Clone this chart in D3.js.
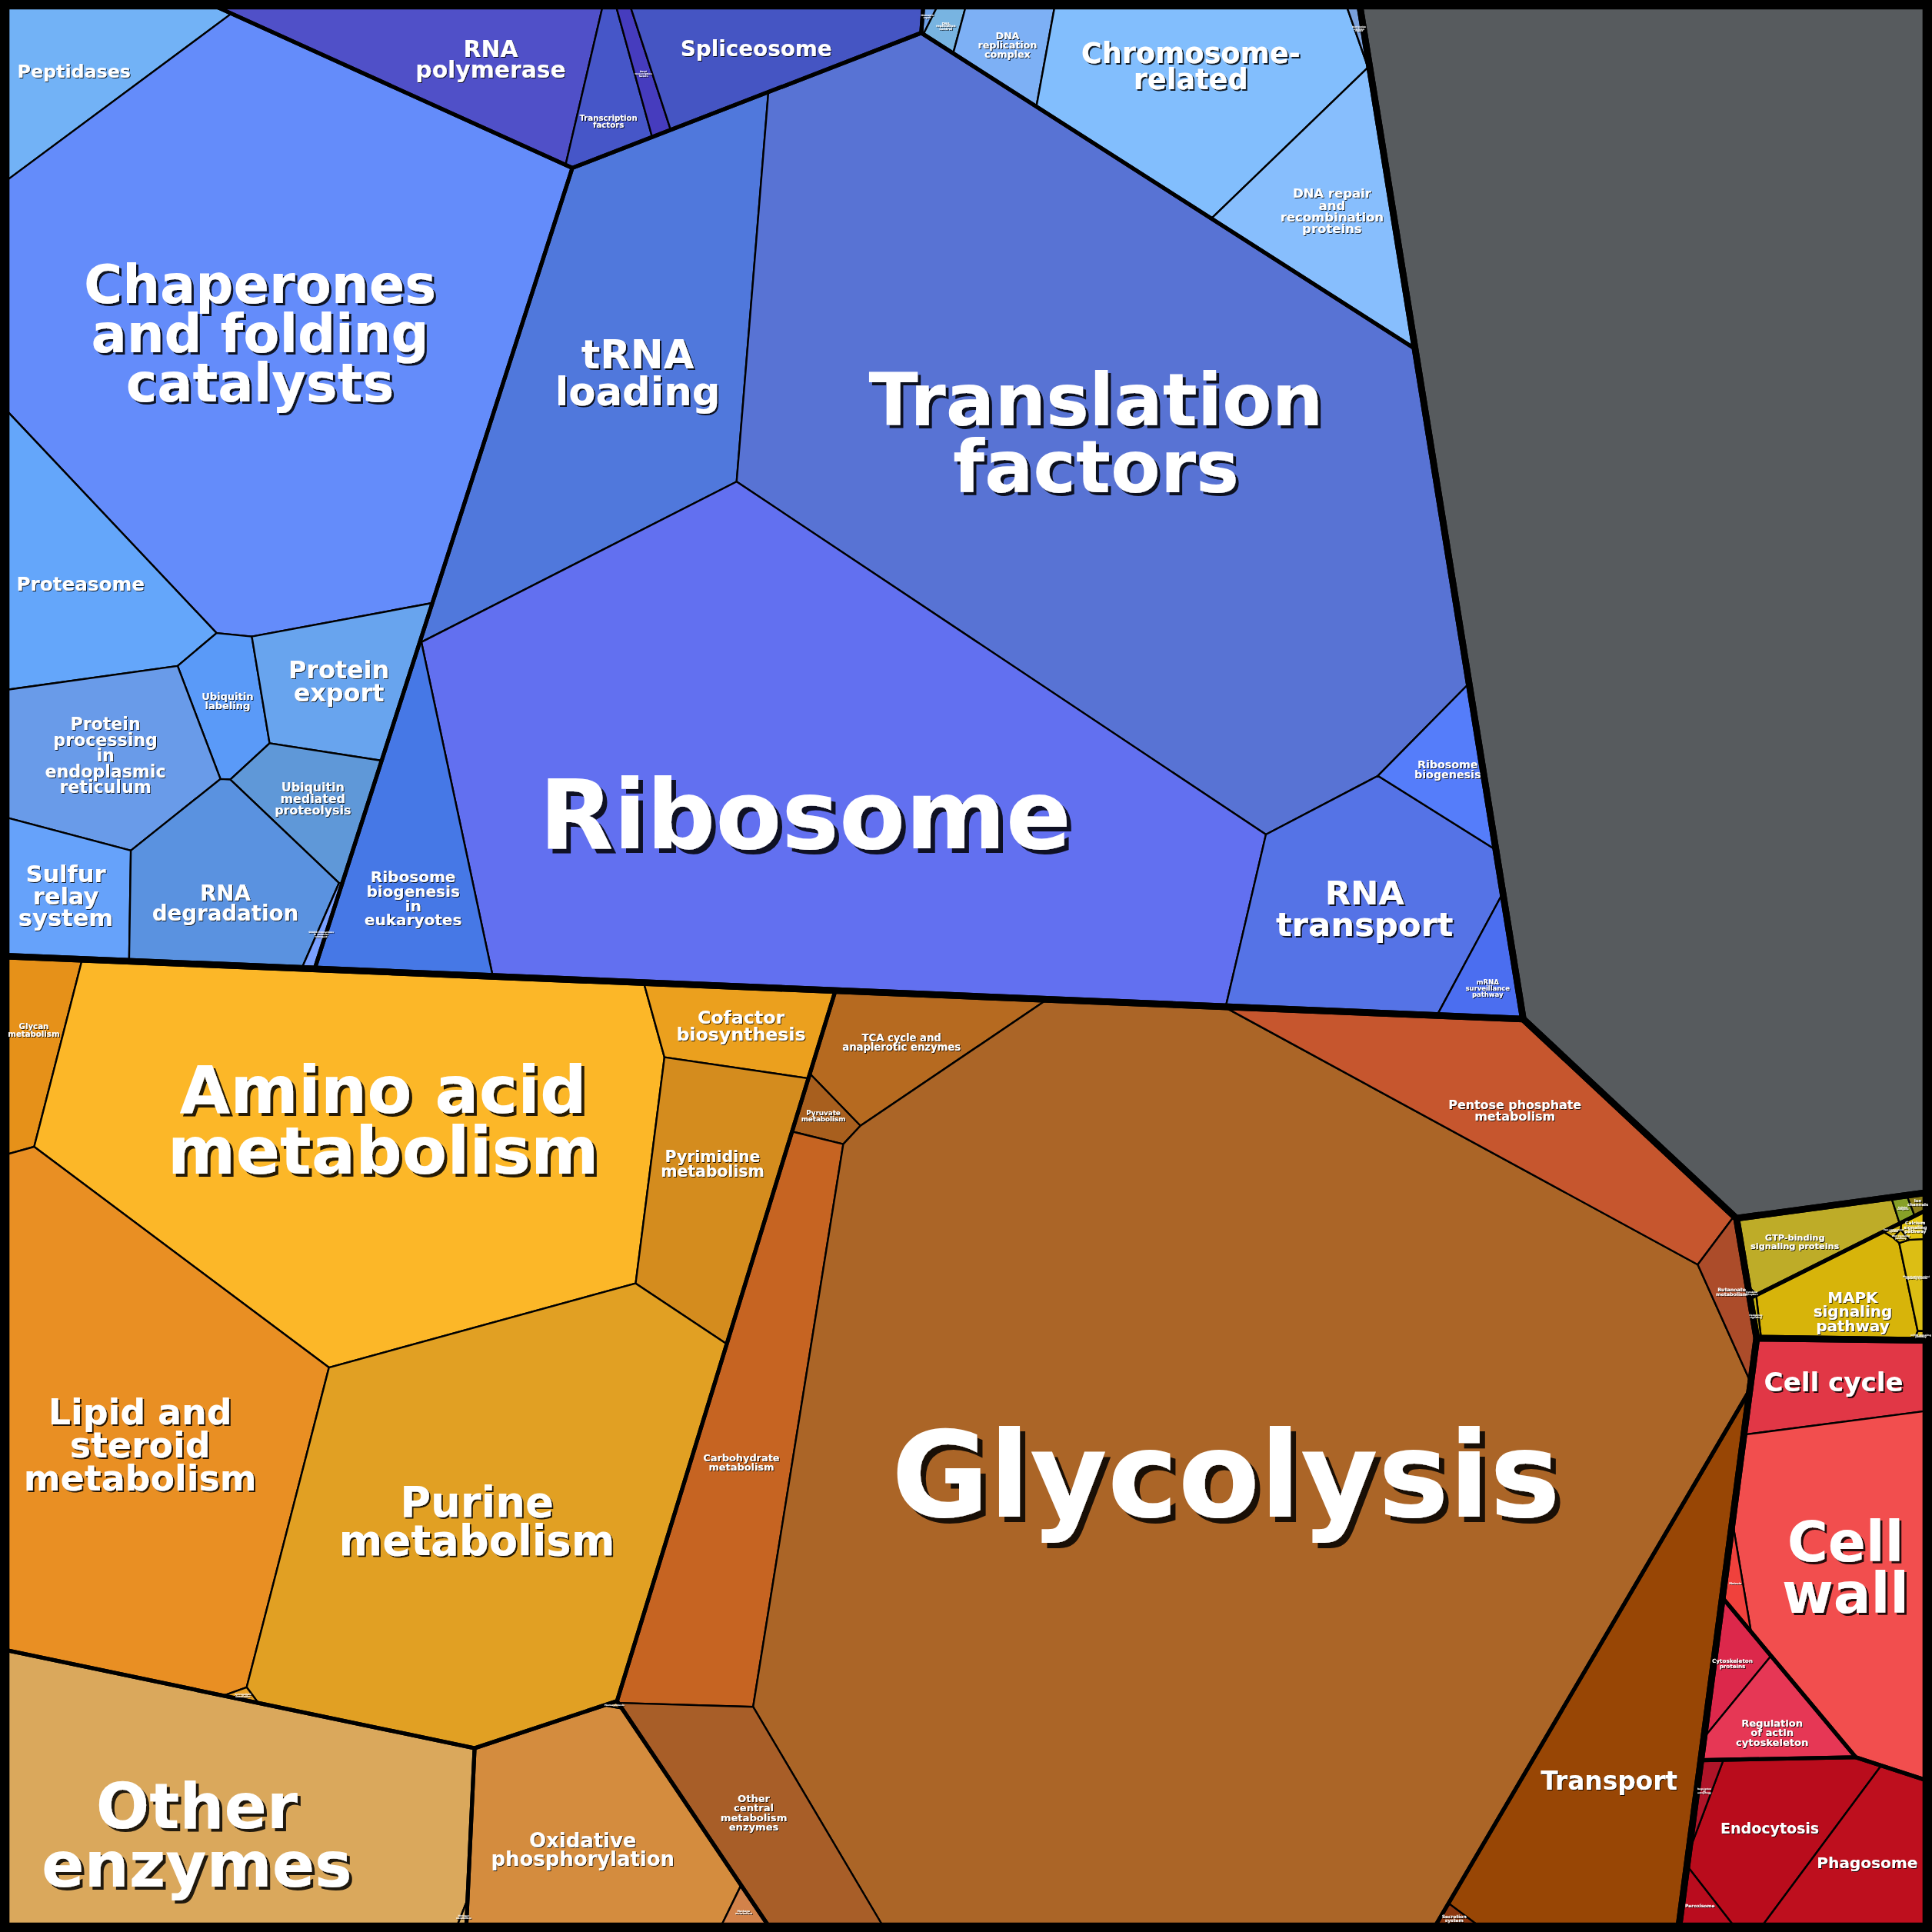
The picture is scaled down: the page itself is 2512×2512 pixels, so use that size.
<!DOCTYPE html>
<html lang="en">
<head>
<meta charset="utf-8">
<title>Proteomap</title>
<script src="https://cdn.jsdelivr.net/npm/d3@7/dist/d3.min.js"></script>
<style>
html,body{margin:0;padding:0;background:#000;}
svg{display:block;}
</style>
</head>
<body>
<svg id="chart" width="2512" height="2512"></svg>
<script>
// ---------------- DATA ----------------
const groupNames = ["Genetic Information Processing","Not mapped","Metabolism",
  "Environmental Information Processing","Cellular Processes"];

const subgroupNames = ["Folding, sorting and degradation","Transcription","Replication and repair",
  "Translation","Not mapped","Amino acid, lipid and nucleotide metabolism","Other enzymes",
  "Energy metabolism","Central carbon metabolism","Membrane transport",
  "Signaling molecules and interaction","Signal transduction",
  "Cell growth and death","Cell motility","Transport and catabolism"];
const subgroupParent = [0,0,0,0,1,2,2,2,2,2,3,3,4,4,4];

const pathwayLabels = [
  "Peptidases","Chaperones\nand folding\ncatalysts","Proteasome","Ubiquitin\nlabeling","Protein\nexport",
  "Protein\nprocessing\nin\nendoplasmic\nreticulum","Ubiquitin\nmediated\nproteolysis","Sulfur\nrelay\nsystem",
  "RNA\ndegradation","SNARE interactions\nin vesicular\ntransport",
  "RNA\npolymerase","Transcription\nfactors","Basal\ntranscription\nfactors","Spliceosome",
  "Mismatch\nrepair","DNA\nreplication\ncontrol","DNA\nreplication\ncomplex","Chromosome-\nrelated",
  "DNA repair\nand\nrecombination\nproteins","Nucleotide\nexcision\nrepair",
  "tRNA\nloading","Translation\nfactors","Ribosome","Ribosome\nbiogenesis\nin\neukaryotes","RNA\ntransport",
  "Ribosome\nbiogenesis","mRNA\nsurveillance\npathway",
  "Not mapped",
  "Glycan\nmetabolism","Amino acid\nmetabolism","Cofactor\nbiosynthesis","Pyrimidine\nmetabolism",
  "Lipid and\nsteroid\nmetabolism","Purine\nmetabolism","Sphingolipid\nmetabolism",
  "Other\nenzymes","Nitrogen\nmetabolism",
  "Oxidative\nphosphorylation","Methane\nmetabolism","Photosynthesis",
  "TCA cycle and\nanaplerotic enzymes","Pyruvate\nmetabolism","Carbohydrate\nmetabolism","Glycolysis",
  "Pentose phosphate\nmetabolism","Butanoate\nmetabolism","Other\ncentral\nmetabolism\nenzymes",
  "Transport","Secretion\nsystem",
  "GTP-binding\nsignaling proteins","Cellular\nantigens","Ion\nchannels","Cytokine\nreceptors",
  "MAPK\nsignaling\npathway","Calcium\nsignaling\npathway","Phosphatidylinositol\nsignaling system",
  "Two-component\nsystem","Wnt signaling\npathway","mTOR signaling\npathway","Hedgehog\nsignaling",
  "Cell cycle","Cell\nwall","Meiosis",
  "Cytoskeleton\nproteins","Regulation\nof actin\ncytoskeleton",
  "Endocytosis","Phagosome","Peroxisome","Regulation\nof\nautophagy"
];

const pathwaySubgroup = [0,0,0,0,0,0,0,0,0,0, 1,1,1,1, 2,2,2,2,2,2, 3,3,3,3,3,3,3, 4,
  5,5,5,5,5,5,5, 6,6, 7,7,7, 8,8,8,8,8,8,8, 9,9, 10,10,10,10, 11,11,11,11,11,11,11,
  12,12,12, 13,13, 14,14,14,14];

const pathwayValues = [134.0,1606.5,208.4,56.4,125.9,195.4,74.9,101.3,186.4,4.6,
  201.7,48.9,14.6,140.1,
  1.5,8.0,44.3,309.3,169.4,3.0,
  655.3,2386.9,1940.3,195.1,310.1,57.8,35.4,
  3585.5,
  65.4,1270.5,89.6,204.2,823.5,1007.7,1.5,
  690.4,0.8,
  297.6,6.3,0.4,
  111.3,16.4,356.2,4524.1,290.7,28.9,178.6,
  424.4,3.2,
  56.0,2.6,2.0,0.3,
  79.3,3.5,10.5,0.8,0.7,0.6,1.5,
  95.8,359.9,8.3,
  25.9,56.4,
  128.8,107.2,10.8,6.8];

// ---------------- STYLE ----------------
const pathwayColors = ["#72b2f6","#648cfa","#64a6fa","#5a9af8","#68a4ee","#699be9","#5f98d8","#66a2fa","#5a92e0","#7aa0ff",
  "#5050c8","#4656c8","#463cbe","#4555c3",
  "#6ea0e6","#78b4e1","#7db0f5","#82befd","#87befd","#7aa0dc",
  "#5078dc","#5873d4","#6270f0","#4678e6","#5573e6","#557dfa","#4b6ef0",
  "#575b5e",
  "#e69119","#fcb728","#eba01e","#d48c1e","#e98f23","#e1a023","#e6a028",
  "#daa85c","#dcae64",
  "#d48c3e","#d2824a","#d8a048",
  "#b66a20","#a85f1e","#c66422","#ab6527","#c6562e","#ac4c2a","#a85e28",
  "#984605","#8c370f",
  "#beac28","#87a028","#8c7d19","#c8b428",
  "#d7b40a","#e1c30f","#dcbe14","#d2b414","#cdb00f","#d2b414","#c8b414",
  "#e13746","#f24e4e","#f0413c",
  "#dc284b","#e63755",
  "#b90c1c","#be0f1e","#b90c1e","#af1428"];

// width of the widest label line (reference grid units, 0 = no label)
const labelWidths = [92,286,104,42,82,98,62,77,119,7,
  122,47,8,123,
  5,16,48,178,84,5,
  134,369,432,79,144,54,36,
  0,
  42,350,105,84,189,224,5,
  252,3,
  149,14,2,
  96,36,62,543,108,26,54,
  111,20,
  72,9,17,2,
  64,19,12,4,4,4,3,
  113,103,10,
  33,59,
  80,82,24,10];

// small label nudges away from the cell centroid: [pathway index, dx, dy] (reference grid units)
const labelNudges = [[0,-8,5],[1,-11,8],[8,0,12],[10,24,0],[11,0,19],[17,-5,-17],[20,15,8],[22,-5,20],
  [23,3,30],[26,0,10],[28,0,-7],[29,14,-15],[31,0,-17],[33,-8,0],[35,-20,20],[37,-4,13],
  [43,15,-8],[47,-11,28],[49,-10,3],[53,7,11],[61,2,-6],[64,0,7]];

// ---------------- LAYOUT SEEDS (reference grid, 1568 units across) ----------------
const groupSeeds = [[560,390],[1422,251],[526,1210],[1529,1041],[1525,1342]];
const subgroupSeeds = [[200,400],[335,102],[717,131],[486,492],[1372,445],
  [300,1030],[218,1422],[433,1432],[801,1184],[1232,1437],
  [1470,1010],[1497,1064],
  [1490,1250],[1393,1331],[1397,1535]];
const seedHints = [[62,57],[218,267],[58,418],[188,572],[272,558],[85,611],[258,648],[54,728],[180,730],[260,765],
  [385,50],[492,75],[521,67],[616,36],
  [756,14],[776,24],[817,35],[965,62],[1076,177],[1102,14],
  [492,315],[860,345],[660,645],[337,714],[1067,740],[1141,622],[1199,811],
  [1372,445],
  [32,845],[305,915],[597,834],[580,950],[120,1162],[392,1232],[198,1376],
  [174,1476],[375,1555],
  [478,1490],[605,1552],[497,1384],
  [747,848],[679,914],[623,1142],[985,1200],[1176,849],[1397,1015],[615,1419],
  [1310,1430],[1214,1558],
  [1462,1008],[1540,983],[1553,978],[1425,1049],
  [1495,1062],[1550,1005],[1552,1050],[1530,1004],[1540,1013],[1553,1085],[1425,1070],
  [1476,1126],[1496,1280],[1407,1295],
  [1404,1361],[1443,1393],
  [1440,1480],[1510,1532],[1377,1529],[1384,1459]];

// ---------------- LAYOUT (power-diagram Voronoi treemap) ----------------
const SIZE = 2512;
const ref = d3.scaleLinear().domain([0, 1568]).range([0, SIZE]);
const K = ref(1) - ref(0);
const pt = p => [ref(p[0]), ref(p[1])];

function clipHalf(poly, a, b, c) {
  const out = [], n = poly.length;
  for (let k = 0; k < n; k++) {
    const P = poly[k], Q = poly[(k + 1) % n];
    const fp = a * P[0] + b * P[1] - c, fq = a * Q[0] + b * Q[1] - c;
    if (fp <= 0) out.push(P);
    if ((fp < 0 && fq > 0) || (fp > 0 && fq < 0)) {
      const t = fp / (fp - fq);
      out.push([P[0] + t * (Q[0] - P[0]), P[1] + t * (Q[1] - P[1])]);
    }
  }
  return out;
}
function bisector(si, sj, wi, wj) {
  return [2 * (sj[0] - si[0]), 2 * (sj[1] - si[1]),
    (sj[0] * sj[0] + sj[1] * sj[1]) - (si[0] * si[0] + si[1] * si[1]) - wj + wi];
}
function powerCells(poly, sites, w) {
  return sites.map((si, i) => {
    let cell = poly;
    for (let j = 0; j < sites.length && cell.length; j++) {
      if (j === i) continue;
      const [a, b, c] = bisector(si, sites[j], w[i], w[j]);
      cell = clipHalf(cell, a, b, c);
    }
    return cell;
  });
}
function sharedLen(cell, a, b, c) {
  const h = Math.hypot(a, b), n = cell.length;
  let L = 0;
  for (let k = 0; k < n; k++) {
    const P = cell[k], Q = cell[(k + 1) % n];
    if (Math.abs(a * P[0] + b * P[1] - c) / h < 1e-6 && Math.abs(a * Q[0] + b * Q[1] - c) / h < 1e-6)
      L += Math.hypot(Q[0] - P[0], Q[1] - P[1]);
  }
  return L;
}
function area(c) { return c.length >= 3 ? Math.abs(d3.polygonArea(c)) : 0; }

function solve(poly, sites, values, iters = 2500) {
  const n = sites.length;
  if (n === 1) return [poly.slice()];
  const total = area(poly), vs = d3.sum(values);
  const T = values.map(v => v / vs * total);
  let w = new Array(n).fill(0), cells;
  const d2 = (i, j) => (sites[i][0] - sites[j][0]) ** 2 + (sites[i][1] - sites[j][1]) ** 2;
  for (let it = 0; it < iters; it++) {
    cells = powerCells(poly, sites, w);
    const A = cells.map(area);
    let maxErr = 0;
    for (let i = 0; i < n; i++) maxErr = Math.max(maxErr, Math.abs(A[i] - T[i]) / T[i]);
    if (maxErr < 5e-4) break;
    const nw = w.slice();
    for (let i = 0; i < n; i++) {
      if (A[i] <= 1e-9) {
        let m = -Infinity;
        for (let j = 0; j < n; j++) if (j !== i) m = Math.max(m, w[j] - d2(i, j));
        nw[i] = m + T[i] * 0.3;
        continue;
      }
      let D = 0;
      for (let j = 0; j < n; j++) {
        if (j === i) continue;
        const [a, b, c] = bisector(sites[i], sites[j], w[i], w[j]);
        const L = sharedLen(cells[i], a, b, c);
        if (L > 0) D += L / (2 * Math.sqrt(d2(i, j)));
      }
      if (D > 0) nw[i] = w[i] + 0.5 * (T[i] - A[i]) / D;
    }
    w = nw;
  }
  return cells;
}

// build hierarchy
const leaves = pathwayLabels.map((label, i) => ({
  i, label, sub: pathwaySubgroup[i], value: pathwayValues[i], color: pathwayColors[i],
  site: pt(seedHints[i])
}));
const subs = subgroupNames.map((name, s) => {
  const ls = leaves.filter(l => l.sub === s);
  return { name, group: subgroupParent[s], leaves: ls, value: d3.sum(ls, l => l.value), site: pt(subgroupSeeds[s]) };
});
const groups = groupNames.map((name, g) => {
  const ss = subs.filter(s => s.group === g);
  return { name, subs: ss, value: d3.sum(ss, s => s.value), site: pt(groupSeeds[g]) };
});

const lo = ref(5), hi = ref(1563);
const root = [[lo, lo], [hi, lo], [hi, hi], [lo, hi]];
const gCells = solve(root, groups.map(g => g.site), groups.map(g => g.value));
groups.forEach((g, gi) => {
  g.poly = gCells[gi];
  const sc = solve(g.poly, g.subs.map(s => s.site), g.subs.map(s => s.value));
  g.subs.forEach((s, si) => {
    s.poly = sc[si];
    const lc = solve(s.poly, s.leaves.map(l => l.site), s.leaves.map(l => l.value));
    s.leaves.forEach((l, li) => { l.poly = lc[li]; });
  });
});

// ---------------- DRAW ----------------
const svg = d3.select("#chart");
const defs = svg.append("defs");
const line = d3.line().curve(d3.curveLinearClosed);
const valid = d => d.poly && d.poly.length >= 3;

svg.append("g").selectAll("path").data(leaves.filter(valid)).join("path")
  .attr("d", d => line(d.poly)).attr("fill", d => d.color)
  .attr("stroke", "#000").attr("stroke-width", 1.5 * K).attr("stroke-linejoin", "round");

svg.append("g").selectAll("path").data(subs.filter(valid)).join("path")
  .attr("d", d => line(d.poly)).attr("fill", "none")
  .attr("stroke", "#000").attr("stroke-width", 3.2 * K).attr("stroke-linejoin", "round");

svg.append("g").selectAll("path").data(groups.filter(valid)).join("path")
  .attr("d", d => line(d.poly)).attr("fill", "none")
  .attr("stroke", "#000").attr("stroke-width", 5.4 * K).attr("stroke-linejoin", "round");

svg.append("rect").attr("x", 3.5 * K).attr("y", 3.5 * K)
  .attr("width", SIZE - 7 * K).attr("height", SIZE - 7 * K)
  .attr("fill", "none").attr("stroke", "#000").attr("stroke-width", 7 * K);

// labels
const nudge = new Map(labelNudges.map(([i, dx, dy]) => [i, [dx, dy]]));
const labelG = svg.append("g")
  .attr("font-family", "'DejaVu Sans', 'Noto Sans', sans-serif")
  .attr("font-weight", "bold").attr("text-anchor", "middle");
const probe = labelG.append("text").attr("font-size", 100);
const labelled = [];
leaves.filter(valid).forEach(l => {
  const target = labelWidths[l.i];
  if (!target) return;
  const lines = l.label.split("\n");
  let maxW = 0;
  lines.forEach(t => { probe.text(t); maxW = Math.max(maxW, probe.node().getComputedTextLength()); });
  const fs = Math.max(3, target * K / maxW * 100);
  const [cx0, cy0] = d3.polygonCentroid(l.poly);
  const [dx, dy] = nudge.get(l.i) || [0, 0];
  labelled.push({ l, lines, fs, cx: cx0 + dx * K, cy: cy0 + dy * K });
});
probe.remove();
labelled.forEach(({ l, lines, fs, cx, cy }) => {
  const lh = 0.93 * fs;
  const y0 = cy - (lines.length - 1) * lh / 2 + 0.36 * fs;
  const off = Math.max(0.8, 0.045 * fs);
  const f = defs.append("filter").attr("id", "sh" + l.i)
    .attr("x", "-20%").attr("y", "-20%").attr("width", "140%").attr("height", "140%");
  f.append("feFlood").attr("flood-color", "#000").attr("flood-opacity", 0.85).attr("result", "fl");
  f.append("feComposite").attr("in", "fl").attr("in2", "SourceAlpha").attr("operator", "in").attr("result", "sa");
  f.append("feOffset").attr("in", "sa").attr("dx", off).attr("dy", off).attr("result", "of");
  const m = f.append("feMerge");
  m.append("feMergeNode").attr("in", "of");
  m.append("feMergeNode").attr("in", "SourceGraphic");
  const t = labelG.append("text").attr("font-size", fs).attr("fill", "#fff")
    .attr("filter", `url(#sh${l.i})`);
  lines.forEach((s, k) => t.append("tspan").attr("x", cx).attr("y", y0 + k * lh).text(s));
});
</script>
</body>
</html>
